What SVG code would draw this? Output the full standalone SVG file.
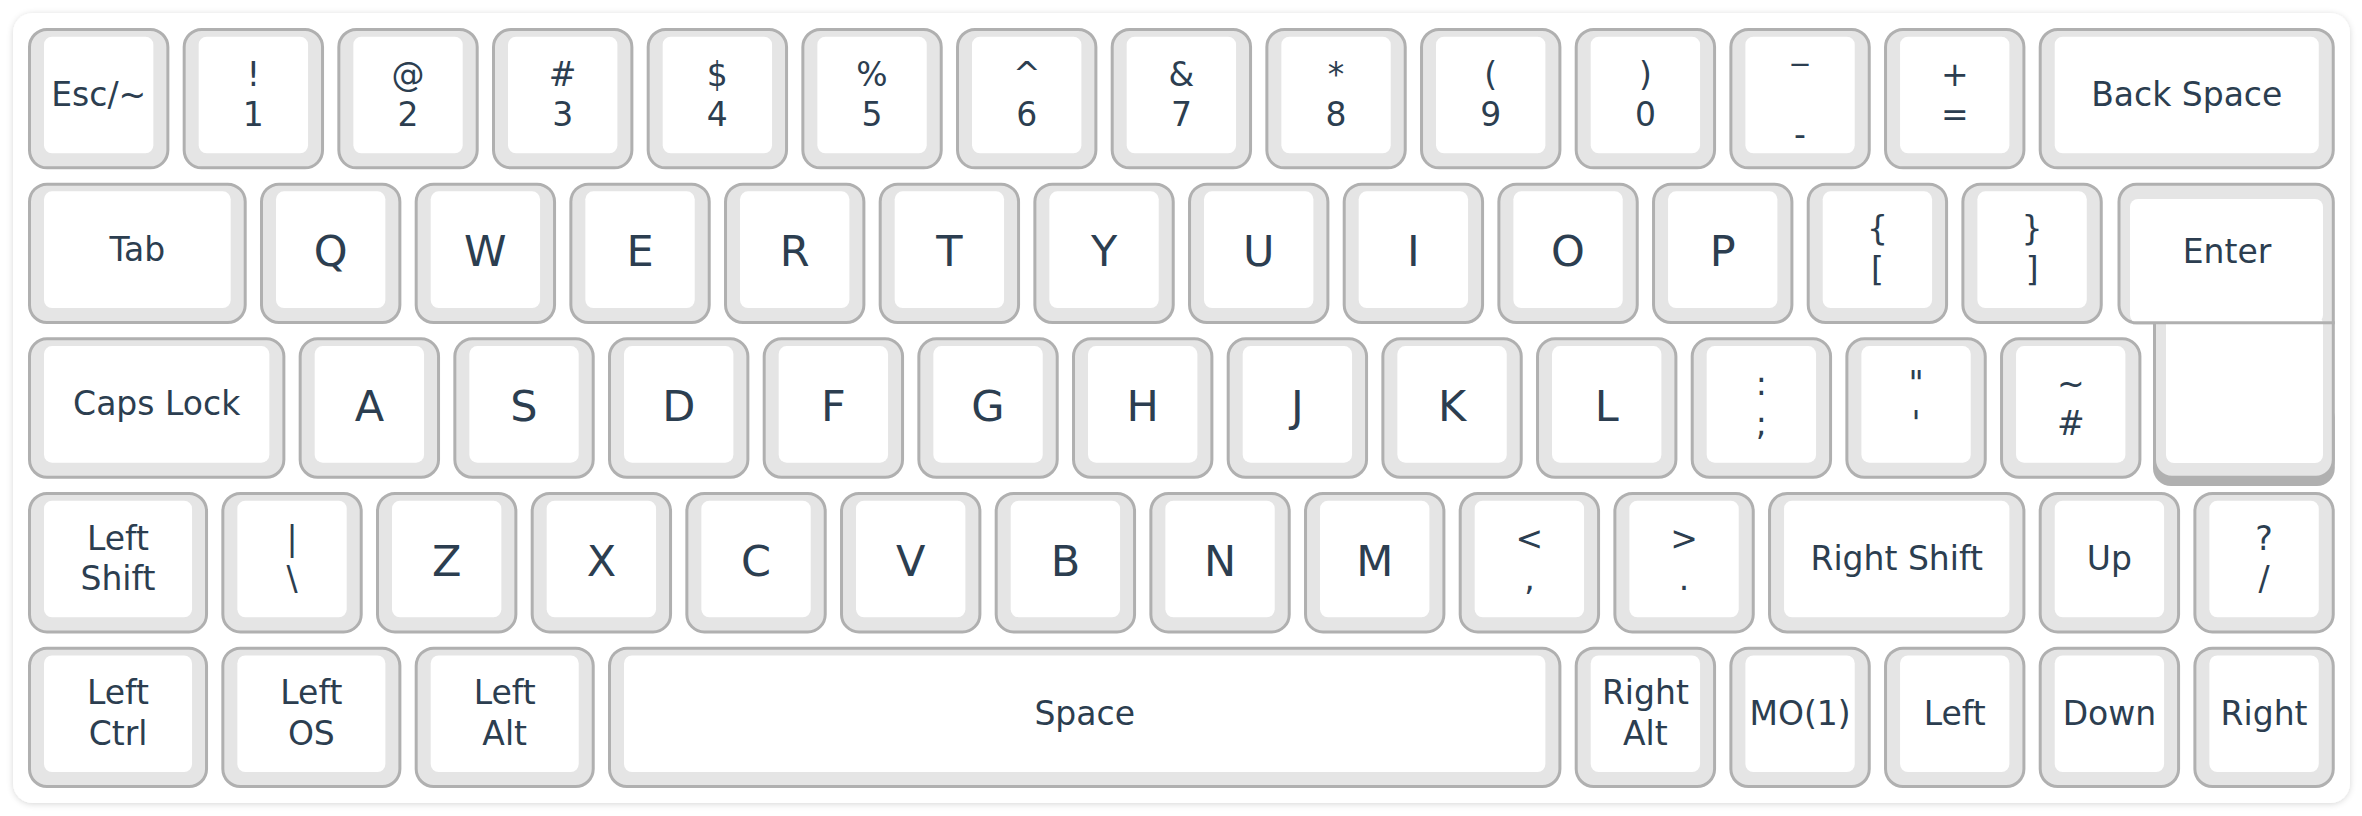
<svg xmlns="http://www.w3.org/2000/svg" xmlns:xlink="http://www.w3.org/1999/xlink" width="2362" height="816" viewBox="0 0 2362 816">
<style>
.ko{fill:#e5e5e5;stroke:#b0b0b0;stroke-width:3}
.kf{fill:#ffffff}
.t{font-family:"DejaVu Sans","Liberation Sans",sans-serif;font-size:33px;fill:#2c3e50;text-anchor:middle}
.L{font-size:43px}
</style>
<defs>
<filter id="sh" x="-5%" y="-5%" width="110%" height="110%">
<feDropShadow dx="0" dy="1" stdDeviation="3" flood-color="#000" flood-opacity="0.16"/>
</filter>
<g id="k100"><rect class="ko" x="1.5" y="1.5" width="138.37" height="138.37" rx="17.5"/><rect class="kf" x="16" y="8.7" width="109.37" height="116.6" rx="8"/></g>
<g id="k125"><rect class="ko" x="1.5" y="1.5" width="177.04" height="138.37" rx="17.5"/><rect class="kf" x="16" y="8.7" width="148.04" height="116.6" rx="8"/></g>
<g id="k150"><rect class="ko" x="1.5" y="1.5" width="215.71" height="138.37" rx="17.5"/><rect class="kf" x="16" y="8.7" width="186.71" height="116.6" rx="8"/></g>
<g id="k175"><rect class="ko" x="1.5" y="1.5" width="254.37" height="138.37" rx="17.5"/><rect class="kf" x="16" y="8.7" width="225.37" height="116.6" rx="8"/></g>
<g id="k200"><rect class="ko" x="1.5" y="1.5" width="293.04" height="138.37" rx="17.5"/><rect class="kf" x="16" y="8.7" width="264.04" height="116.6" rx="8"/></g>
<g id="k625"><rect class="ko" x="1.5" y="1.5" width="950.39" height="138.37" rx="17.5"/><rect class="kf" x="16" y="8.7" width="921.39" height="116.6" rx="8"/></g>
</defs>
<rect width="2362" height="816" fill="#ffffff"/>
<rect id="panel" x="13" y="13" width="2337" height="790" rx="20" fill="#ffffff" filter="url(#sh)"/>

<!-- Row 0 -->
<g id="key-esc" transform="translate(28,28)"><use href="#k100"/><text class="t" x="70.69" y="78">Esc/~</text></g>
<g id="key-1" transform="translate(182.67,28)"><use href="#k100"/><text class="t" x="70.69" y="57.5">!</text><text class="t" x="70.69" y="98">1</text></g>
<g id="key-2" transform="translate(337.34,28)"><use href="#k100"/><text class="t" x="70.69" y="57.5">@</text><text class="t" x="70.69" y="98">2</text></g>
<g id="key-3" transform="translate(492.01,28)"><use href="#k100"/><text class="t" x="70.69" y="57.5">#</text><text class="t" x="70.69" y="98">3</text></g>
<g id="key-4" transform="translate(646.68,28)"><use href="#k100"/><text class="t" x="70.69" y="57.5">$</text><text class="t" x="70.69" y="98">4</text></g>
<g id="key-5" transform="translate(801.35,28)"><use href="#k100"/><text class="t" x="70.69" y="57.5">%</text><text class="t" x="70.69" y="98">5</text></g>
<g id="key-6" transform="translate(956.02,28)"><use href="#k100"/><text class="t" x="70.69" y="57.5">^</text><text class="t" x="70.69" y="98">6</text></g>
<g id="key-7" transform="translate(1110.69,28)"><use href="#k100"/><text class="t" x="70.69" y="57.5">&amp;</text><text class="t" x="70.69" y="98">7</text></g>
<g id="key-8" transform="translate(1265.36,28)"><use href="#k100"/><text class="t" x="70.69" y="57.5">*</text><text class="t" x="70.69" y="98">8</text></g>
<g id="key-9" transform="translate(1420.03,28)"><use href="#k100"/><text class="t" x="70.69" y="57.5">(</text><text class="t" x="70.69" y="98">9</text></g>
<g id="key-0" transform="translate(1574.7,28)"><use href="#k100"/><text class="t" x="70.69" y="57.5">)</text><text class="t" x="70.69" y="98">0</text></g>
<g id="key-minus" transform="translate(1729.37,28)"><use href="#k100"/><text class="t" x="70.69" y="30.1">_</text><text class="t" x="70.69" y="118.3">-</text></g>
<g id="key-equal" transform="translate(1884.04,28)"><use href="#k100"/><text class="t" x="70.69" y="57.5">+</text><text class="t" x="70.69" y="98">=</text></g>
<g id="key-backspace" transform="translate(2038.71,28)"><use href="#k200"/><text class="t" x="148.02" y="78">Back Space</text></g>

<!-- Row 1 -->
<g id="key-tab" transform="translate(28,182.67)"><use href="#k150"/><text class="t" x="109.36" y="78">Tab</text></g>
<g id="key-q" transform="translate(260,182.67)"><use href="#k100"/><text class="t L" x="70.69" y="83.5">Q</text></g>
<g id="key-w" transform="translate(414.68,182.67)"><use href="#k100"/><text class="t L" x="70.69" y="83.5">W</text></g>
<g id="key-e" transform="translate(569.35,182.67)"><use href="#k100"/><text class="t L" x="70.69" y="83.5">E</text></g>
<g id="key-r" transform="translate(724.02,182.67)"><use href="#k100"/><text class="t L" x="70.69" y="83.5">R</text></g>
<g id="key-t" transform="translate(878.69,182.67)"><use href="#k100"/><text class="t L" x="70.69" y="83.5">T</text></g>
<g id="key-y" transform="translate(1033.36,182.67)"><use href="#k100"/><text class="t L" x="70.69" y="83.5">Y</text></g>
<g id="key-u" transform="translate(1188.03,182.67)"><use href="#k100"/><text class="t L" x="70.69" y="83.5">U</text></g>
<g id="key-i" transform="translate(1342.7,182.67)"><use href="#k100"/><text class="t L" x="70.69" y="83.5">I</text></g>
<g id="key-o" transform="translate(1497.37,182.67)"><use href="#k100"/><text class="t L" x="70.69" y="83.5">O</text></g>
<g id="key-p" transform="translate(1652.04,182.67)"><use href="#k100"/><text class="t L" x="70.69" y="83.5">P</text></g>
<g id="key-lbracket" transform="translate(1806.71,182.67)"><use href="#k100"/><text class="t" x="70.69" y="57.5">{</text><text class="t" x="70.69" y="98">[</text></g>
<g id="key-rbracket" transform="translate(1961.38,182.67)"><use href="#k100"/><text class="t" x="70.69" y="57.5">}</text><text class="t" x="70.69" y="98">]</text></g>
<g id="key-enter">
<rect x="2153" y="400" width="181.8" height="86" rx="18" fill="#b0b0b0"/>
<path class="ko" d="M2136.5,184.2 H2315.8 A17.5,17.5 0 0 1 2333.3,201.7 V459.8 A17.5,17.5 0 0 1 2315.8,477.3 H2172 A17.5,17.5 0 0 1 2154.5,459.8 V322.8 H2136.5 A17.5,17.5 0 0 1 2119,305.3 V201.7 A17.5,17.5 0 0 1 2136.5,184.2 Z"/>
<rect class="kf" x="2130" y="199" width="193" height="124" rx="8"/>
<rect class="kf" x="2166" y="316" width="157" height="147" rx="8"/>
<path d="M2133,322.8 H2334.8" stroke="#b0b0b0" stroke-width="3" fill="none"/>
<text class="t" x="2227" y="263.3">Enter</text>
</g>

<!-- Row 2 -->
<g id="key-caps" transform="translate(28,337.34)"><use href="#k175"/><text class="t" x="128.69" y="78">Caps Lock</text></g>
<g id="key-a" transform="translate(298.67,337.34)"><use href="#k100"/><text class="t L" x="70.69" y="83.5">A</text></g>
<g id="key-s" transform="translate(453.34,337.34)"><use href="#k100"/><text class="t L" x="70.69" y="83.5">S</text></g>
<g id="key-d" transform="translate(608.01,337.34)"><use href="#k100"/><text class="t L" x="70.69" y="83.5">D</text></g>
<g id="key-f" transform="translate(762.68,337.34)"><use href="#k100"/><text class="t L" x="70.69" y="83.5">F</text></g>
<g id="key-g" transform="translate(917.35,337.34)"><use href="#k100"/><text class="t L" x="70.69" y="83.5">G</text></g>
<g id="key-h" transform="translate(1072.02,337.34)"><use href="#k100"/><text class="t L" x="70.69" y="83.5">H</text></g>
<g id="key-j" transform="translate(1226.69,337.34)"><use href="#k100"/><text class="t L" x="70.69" y="83.5">J</text></g>
<g id="key-k" transform="translate(1381.36,337.34)"><use href="#k100"/><text class="t L" x="70.69" y="83.5">K</text></g>
<g id="key-l" transform="translate(1536.03,337.34)"><use href="#k100"/><text class="t L" x="70.69" y="83.5">L</text></g>
<g id="key-semicolon" transform="translate(1690.7,337.34)"><use href="#k100"/><text class="t" x="70.69" y="57.5">:</text><text class="t" x="70.69" y="98">;</text></g>
<g id="key-quote" transform="translate(1845.37,337.34)"><use href="#k100"/><text class="t" x="70.69" y="57.5">"</text><text class="t" x="70.69" y="98">'</text></g>
<g id="key-hash" transform="translate(2000.04,337.34)"><use href="#k100"/><text class="t" x="70.69" y="57.5">~</text><text class="t" x="70.69" y="98">#</text></g>

<!-- Row 3 -->
<g id="key-lshift" transform="translate(28,492.01)"><use href="#k125"/><text class="t" x="90.02" y="57.5">Left</text><text class="t" x="90.02" y="98">Shift</text></g>
<g id="key-backslash" transform="translate(221.34,492.01)"><use href="#k100"/><text class="t" x="70.69" y="57.5">|</text><text class="t" x="70.69" y="98">\</text></g>
<g id="key-z" transform="translate(376,492.01)"><use href="#k100"/><text class="t L" x="70.69" y="83.5">Z</text></g>
<g id="key-x" transform="translate(530.68,492.01)"><use href="#k100"/><text class="t L" x="70.69" y="83.5">X</text></g>
<g id="key-c" transform="translate(685.35,492.01)"><use href="#k100"/><text class="t L" x="70.69" y="83.5">C</text></g>
<g id="key-v" transform="translate(840.02,492.01)"><use href="#k100"/><text class="t L" x="70.69" y="83.5">V</text></g>
<g id="key-b" transform="translate(994.69,492.01)"><use href="#k100"/><text class="t L" x="70.69" y="83.5">B</text></g>
<g id="key-n" transform="translate(1149.36,492.01)"><use href="#k100"/><text class="t L" x="70.69" y="83.5">N</text></g>
<g id="key-m" transform="translate(1304.03,492.01)"><use href="#k100"/><text class="t L" x="70.69" y="83.5">M</text></g>
<g id="key-comma" transform="translate(1458.7,492.01)"><use href="#k100"/><text class="t" x="70.69" y="57.5">&lt;</text><text class="t" x="70.69" y="98">,</text></g>
<g id="key-period" transform="translate(1613.37,492.01)"><use href="#k100"/><text class="t" x="70.69" y="57.5">&gt;</text><text class="t" x="70.69" y="98">.</text></g>
<g id="key-rshift" transform="translate(1768.04,492.01)"><use href="#k175"/><text class="t" x="128.69" y="78">Right Shift</text></g>
<g id="key-up" transform="translate(2038.71,492.01)"><use href="#k100"/><text class="t" x="70.69" y="78">Up</text></g>
<g id="key-slash" transform="translate(2193.38,492.01)"><use href="#k100"/><text class="t" x="70.69" y="57.5">?</text><text class="t" x="70.69" y="98">/</text></g>

<!-- Row 4 -->
<g id="key-lctrl" transform="translate(28,646.68)"><use href="#k125"/><text class="t" x="90.02" y="57.5">Left</text><text class="t" x="90.02" y="98">Ctrl</text></g>
<g id="key-los" transform="translate(221.34,646.68)"><use href="#k125"/><text class="t" x="90.02" y="57.5">Left</text><text class="t" x="90.02" y="98">OS</text></g>
<g id="key-lalt" transform="translate(414.68,646.68)"><use href="#k125"/><text class="t" x="90.02" y="57.5">Left</text><text class="t" x="90.02" y="98">Alt</text></g>
<g id="key-space" transform="translate(608.01,646.68)"><use href="#k625"/><text class="t" x="476.7" y="78">Space</text></g>
<g id="key-ralt" transform="translate(1574.7,646.68)"><use href="#k100"/><text class="t" x="70.69" y="57.5">Right</text><text class="t" x="70.69" y="98">Alt</text></g>
<g id="key-mo1" transform="translate(1729.37,646.68)"><use href="#k100"/><text class="t" x="70.69" y="78">MO(1)</text></g>
<g id="key-left" transform="translate(1884.04,646.68)"><use href="#k100"/><text class="t" x="70.69" y="78">Left</text></g>
<g id="key-down" transform="translate(2038.71,646.68)"><use href="#k100"/><text class="t" x="70.69" y="78">Down</text></g>
<g id="key-right" transform="translate(2193.38,646.68)"><use href="#k100"/><text class="t" x="70.69" y="78">Right</text></g>
</svg>
